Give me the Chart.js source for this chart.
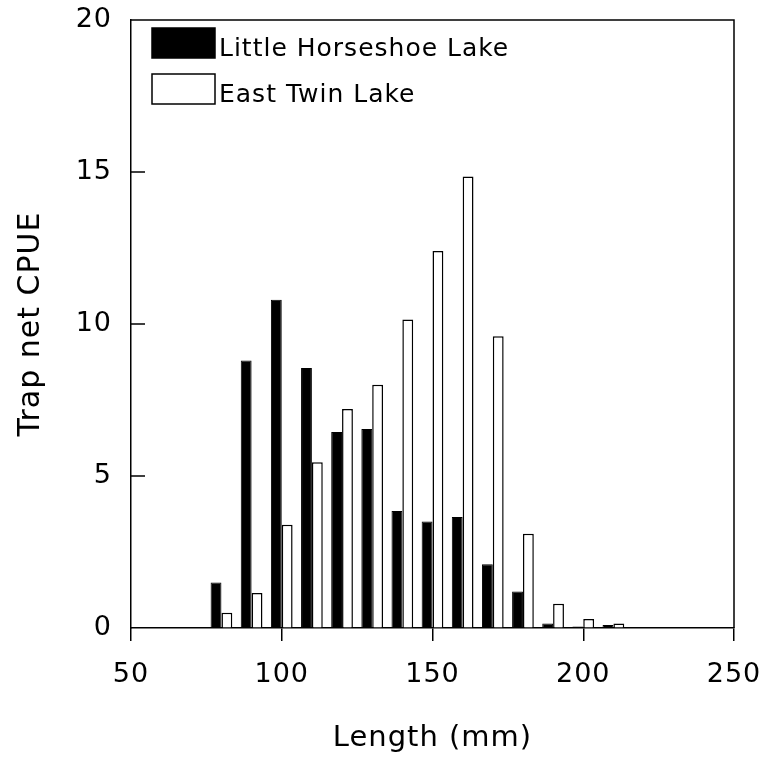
<!DOCTYPE html>
<html lang="en">
<head>
<meta charset="UTF-8">
<title>Trap net CPUE by length</title>
<script src="https://cdn.jsdelivr.net/npm/chart.js"></script>
<style>
html,body{margin:0;padding:0;background:#fff;}
</style>
</head>
<body>
<canvas id="chart" width="769" height="762"></canvas>
<script>
// length bins (mm) and CPUE per lake
const lengths=[80,90,100,110,120,130,140,150,160,170,180,190,200,210];
const littleHorseshoe=[1.5,8.8,10.8,8.55,6.45,6.55,3.85,3.5,3.65,2.1,1.2,0.15,0.05,0.1];
const eastTwin=[0.5,1.15,3.4,5.45,7.2,8.0,10.15,12.4,14.85,9.6,3.1,0.8,0.3,0.15];
const seriesNames=['Little Horseshoe Lake','East Twin Lake'];
const xRange=[50,250], xStep=50;
const yRange=[0,20], yStep=5;

Chart.defaults.font.family='"DejaVu Sans", sans-serif';
Chart.defaults.color='#000';

// box around the plot, inward y ticks, legend inside the plot
const frame={
  id:'frame',
  beforeDraw(c){c.ctx.letterSpacing='1px';},
  afterDraw(c){
    const {ctx,chartArea:a,scales:{y}}=c;
    ctx.save();
    ctx.strokeStyle='#000';ctx.lineWidth=1.5;
    ctx.beginPath();
    ctx.moveTo(a.left,a.top);ctx.lineTo(a.right,a.top);ctx.lineTo(a.right,a.bottom);
    y.ticks.forEach(t=>{
      if(t.value>yRange[0]&&t.value<yRange[1]){
        const py=y.getPixelForValue(t.value);
        ctx.moveTo(a.left,py);ctx.lineTo(a.left+14,py);
      }
    });
    ctx.stroke();
    ctx.font='25px "DejaVu Sans"';
    ctx.textBaseline='alphabetic';
    c.data.datasets.forEach((ds,i)=>{
      const bx=a.left+21, by=a.top+8+i*46;
      ctx.fillStyle=ds.backgroundColor;ctx.fillRect(bx,by,63,30);
      ctx.strokeRect(bx,by,63,30);
      ctx.fillStyle='#000';ctx.fillText(ds.label,bx+67,by+28);
    });
    ctx.restore();
  }
};

new Chart(document.getElementById('chart'),{
  type:'bar',
  data:{labels:lengths,datasets:[
    {label:seriesNames[0],data:littleHorseshoe,backgroundColor:'#000',borderColor:'#000',borderWidth:1,categoryPercentage:0.72,barPercentage:1},
    {label:seriesNames[1],data:eastTwin,backgroundColor:'#fff',borderColor:'#000',borderWidth:1.5,categoryPercentage:0.72,barPercentage:1}
  ]},
  options:{
    responsive:false,animation:false,devicePixelRatio:1,
    layout:{padding:{top:20,right:35,left:0,bottom:0}},
    plugins:{legend:{display:false},tooltip:{enabled:false}},
    scales:{
      x:{type:'linear',min:xRange[0],max:xRange[1],offset:false,
        ticks:{stepSize:xStep,padding:18,font:{size:27},maxRotation:0},
        grid:{offset:false,drawOnChartArea:false,drawTicks:true,tickLength:13,color:'#000',lineWidth:1.5},
        border:{color:'#000',width:1.5},
        title:{display:true,text:'Length (mm)',font:{size:29},padding:{top:0,bottom:6}},
        afterFit(s){s.height=134;s.paddingLeft=0;s.paddingRight=0;}},
      y:{min:yRange[0],max:yRange[1],
        ticks:{stepSize:yStep,padding:19,font:{size:27}},
        grid:{drawOnChartArea:false,drawTicks:false},
        border:{color:'#000',width:1.5},
        title:{display:true,text:'Trap net CPUE',font:{size:30},padding:{top:13,bottom:0}},
        afterFit(s){s.width=131;s.paddingTop=0;s.paddingBottom=0;}}
    }
  },
  plugins:[frame]
});
</script>
</body>
</html>
